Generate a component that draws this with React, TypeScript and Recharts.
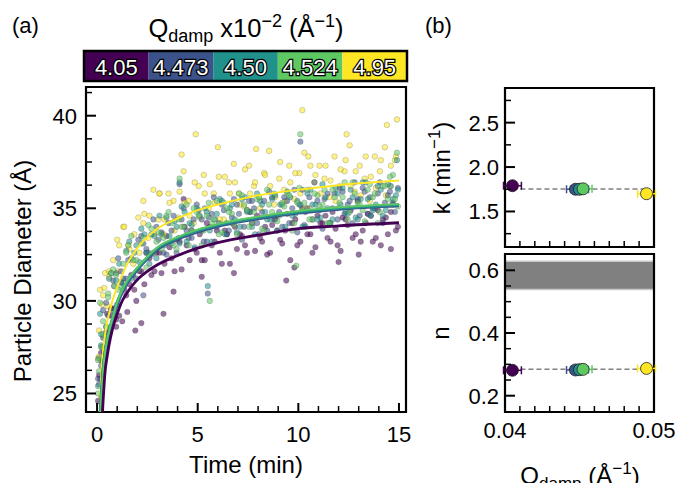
import * as React from "react";
import {
  ComposedChart,
  Scatter,
  Line,
  XAxis,
  YAxis,
  ReferenceArea,
  ReferenceLine,
  ErrorBar,
} from "recharts";

const FONT = "'Liberation Sans', Arial, Helvetica, sans-serif";
const W = 678;
const H = 483;

// colour bar / series
const Q_LABELS = ["4.05", "4.473", "4.50", "4.524", "4.95"];
const COLORS = ["#440154", "#3b528b", "#21918c", "#5ec962", "#fde725"];

// measurement times (min)
const TIME_A = [
  0.1, 0.35, 0.6, 0.85, 1.1, 1.35, 1.6, 1.85, 2.1, 2.35, 2.6, 2.85, 3.1, 3.35, 3.6, 3.85, 4.1, 4.35, 4.6, 4.85,
  5.1, 5.35, 5.6, 5.85, 6.1, 6.35, 6.6, 6.85, 7.1, 7.35, 7.6, 7.85, 8.1, 8.35, 8.6, 8.85, 9.1, 9.35, 9.6, 9.85,
  10.1, 10.35, 10.6, 10.85, 11.1, 11.35, 11.6, 11.85, 12.1, 12.35, 12.6, 12.85, 13.1, 13.35, 13.6, 13.85, 14.1, 14.35, 14.6, 14.85,
];
const TIME_B = [
  0.2, 0.45, 0.7, 0.95, 1.2, 1.45, 1.7, 1.95, 2.2, 2.45, 2.7, 2.95, 3.2, 3.45, 3.7, 3.95, 4.2, 4.45, 4.7, 4.95,
  5.2, 5.45, 5.7, 5.95, 6.2, 6.45, 6.7, 6.95, 7.2, 7.45, 7.7, 7.95, 8.2, 8.45, 8.7, 8.95, 9.2, 9.45, 9.7, 9.95,
  10.2, 10.45, 10.7, 10.95, 11.2, 11.45, 11.7, 11.95, 12.2, 12.45, 12.7, 12.95, 13.2, 13.45, 13.7, 13.95, 14.2, 14.45, 14.7, 14.95,
];
const TIME_C = [
  0.05, 0.3, 0.55, 0.8, 1.05, 1.3, 1.55, 1.8, 2.05, 2.3, 2.55, 2.8, 3.05, 3.3, 3.55, 3.8, 4.05, 4.3, 4.55, 4.8,
  5.05, 5.3, 5.55, 5.8, 6.05, 6.3, 6.55, 6.8, 7.05, 7.3, 7.55, 7.8, 8.05, 8.3, 8.55, 8.8, 9.05, 9.3, 9.55, 9.8,
  10.05, 10.3, 10.55, 10.8, 11.05, 11.3, 11.55, 11.8, 12.05, 12.3, 12.55, 12.8, 13.05, 13.3, 13.55, 13.8, 14.05, 14.3, 14.55, 14.8,
];

// particle diameters (Å), two runs per Q_damp
const D_405 = [
  26.0, 27.2, 28.3, 29.6, 29.2, 30.6, 30.9, 30.6, 31.6, 30.9,
  32.3, 31.6, 32.6, 32.0, 32.9, 31.6, 33.2, 34.0, 32.2, 32.8,
  33.6, 32.2, 34.0, 33.2, 32.6, 33.8, 32.0, 34.0, 33.6, 33.0,
  34.8, 32.7, 33.4, 34.0, 32.6, 34.4, 33.3, 33.8, 32.2, 34.4,
  33.2, 34.8, 33.6, 32.9, 34.2, 34.6, 33.2, 33.9, 32.7, 34.4,
  34.9, 33.6, 33.2, 34.2, 34.6, 33.4, 33.0, 34.5, 34.8, 33.8,
];
const D2_405 = [
  27.2, 27.5, 29.2, 28.6, 31.0, 30.3, 31.4, 30.0, 31.6, 32.6,
  31.4, 32.6, 31.5, 33.5, 32.3, 33.3, 31.7, 33.0, 33.8, 32.6,
  32.2, 34.2, 33.0, 33.8, 32.0, 33.6, 34.2, 32.8, 33.5, 32.6,
  34.2, 34.6, 33.2, 32.5, 34.1, 33.8, 33.1, 34.7, 34.2, 33.0,
  35.0, 33.6, 32.6, 34.6, 34.2, 33.4, 34.8, 33.0, 34.5, 34.1,
  33.4, 35.4, 33.8, 34.7, 33.2, 34.9, 34.4, 33.6, 35.2, 34.0,
];
const D_4473 = [
  26.5, 29.9, 29.5, 31.5, 31.6, 31.2, 32.3, 31.2, 33.5, 32.8,
  32.5, 34.0, 33.7, 32.5, 33.8, 32.6, 34.4, 33.8, 33.4, 35.2,
  34.4, 33.2, 34.7, 34.0, 35.2, 33.6, 34.5, 35.2, 33.3, 34.9,
  35.4, 34.2, 34.8, 33.8, 35.6, 34.6, 34.0, 35.4, 35.0, 33.7,
  36.0, 35.0, 34.4, 35.4, 33.9, 35.8, 35.0, 34.4, 35.9, 35.2,
  34.2, 35.5, 36.1, 34.7, 35.0, 35.8, 34.2, 35.7, 35.3, 36.1,
];
const D2_4473 = [
  25.8, 29.5, 29.2, 31.1, 32.3, 31.2, 32.2, 31.4, 33.3, 33.1,
  32.6, 34.4, 33.3, 32.6, 34.2, 34.6, 33.4, 35.0, 33.4, 34.4,
  34.9, 33.2, 34.5, 35.6, 34.2, 34.9, 33.8, 35.5, 34.7, 34.0,
  35.4, 35.0, 33.6, 35.4, 35.9, 34.4, 34.8, 35.6, 34.2, 36.0,
  35.2, 34.1, 35.6, 36.4, 34.9, 35.5, 34.2, 35.8, 36.1, 34.7,
  35.4, 36.4, 34.6, 35.9, 35.6, 35.0, 36.4, 35.3, 35.9, 34.8,
];
const D_450 = [
  26.9, 28.1, 31.2, 30.8, 32.0, 30.8, 33.2, 32.6, 32.1, 33.6,
  32.0, 33.5, 34.6, 33.0, 33.5, 34.3, 33.1, 34.8, 34.2, 32.9,
  34.6, 35.0, 33.8, 34.4, 35.5, 33.6, 35.0, 34.4, 34.0, 35.6,
  34.8, 33.6, 35.4, 34.8, 34.4, 35.7, 35.2, 34.0, 35.6, 34.7,
  35.2, 34.0, 36.0, 35.2, 34.5, 35.6, 34.2, 36.1, 35.2, 34.8,
  36.0, 34.5, 35.5, 36.4, 34.6, 35.2, 36.0, 34.9, 36.2, 35.7,
];
const D2_450 = [
  28.2, 28.6, 31.5, 31.1, 31.0, 32.7, 31.2, 33.0, 33.9, 32.6,
  33.6, 32.3, 33.6, 34.5, 33.1, 34.0, 35.1, 33.2, 34.1, 35.0,
  33.8, 34.8, 33.2, 34.7, 35.4, 34.2, 35.2, 33.7, 35.5, 34.8,
  34.0, 35.8, 35.2, 34.4, 35.5, 33.8, 35.2, 35.9, 34.6, 35.4,
  34.0, 35.8, 35.2, 34.4, 36.3, 35.0, 34.4, 35.8, 36.1, 34.7,
  35.6, 34.4, 36.4, 35.5, 34.9, 36.2, 34.6, 36.3, 35.5, 36.0,
];
const D_4524 = [
  27.5, 28.6, 31.5, 31.4, 30.7, 32.6, 33.5, 32.2, 33.1, 31.8,
  33.9, 33.2, 32.8, 34.6, 34.2, 32.8, 34.0, 35.2, 33.8, 34.8,
  33.0, 34.6, 34.2, 35.4, 33.7, 35.0, 34.7, 33.6, 35.7, 34.9,
  34.2, 35.5, 33.9, 36.0, 34.8, 34.3, 35.3, 35.8, 33.8, 35.3,
  34.9, 36.0, 34.4, 35.7, 35.2, 34.2, 36.0, 35.0, 35.6, 34.4,
  36.4, 35.3, 34.9, 36.0, 35.6, 34.2, 36.2, 35.5, 36.8, 35.1,
];
const D2_4524 = [
  26.8, 28.2, 30.4, 31.7, 30.6, 32.0, 33.0, 32.2, 31.7, 33.4,
  34.1, 32.6, 33.7, 33.4, 34.8, 33.0, 34.4, 34.0, 33.0, 35.0,
  34.6, 33.8, 35.3, 34.4, 33.6, 35.3, 34.8, 34.1, 35.8, 35.2,
  34.0, 34.8, 35.6, 33.8, 35.2, 35.8, 34.6, 35.1, 35.7, 34.2,
  36.1, 35.3, 34.4, 35.8, 35.1, 36.0, 34.2, 35.6, 35.3, 36.4,
  34.8, 35.8, 35.2, 34.3, 36.3, 35.8, 34.8, 36.2, 36.7, 35.5,
];
const D_495 = [
  26.9, 30.3, 29.7, 32.2, 31.6, 34.0, 33.0, 32.0, 34.5, 34.2,
  33.4, 36.0, 34.4, 33.6, 35.8, 35.4, 34.5, 37.0, 35.4, 34.2,
  36.2, 36.8, 35.0, 35.8, 36.7, 34.4, 36.4, 37.4, 35.8, 35.1,
  37.3, 36.2, 35.6, 36.9, 38.1, 35.2, 36.6, 36.0, 37.3, 35.5,
  36.9, 38.0, 35.0, 36.4, 37.3, 36.6, 35.6, 37.8, 36.2, 37.0,
  38.4, 35.9, 37.3, 36.6, 35.4, 37.8, 37.0, 38.3, 36.2, 37.6,
];
const D2_495 = [
  27.0, 30.7, 31.3, 30.8, 33.0, 34.0, 32.8, 33.6, 32.6, 34.7,
  34.6, 33.6, 35.8, 34.4, 35.3, 33.8, 35.9, 35.3, 34.6, 36.4,
  34.5, 35.8, 36.3, 35.3, 34.4, 36.7, 35.8, 36.4, 35.2, 37.1,
  35.8, 36.4, 35.0, 36.8, 36.2, 35.6, 37.5, 35.4, 36.4, 36.9,
  35.8, 35.0, 37.3, 36.8, 35.8, 37.3, 36.5, 35.4, 37.1, 37.6,
  36.2, 37.0, 35.7, 37.8, 36.7, 36.1, 37.6, 35.7, 37.3, 37.8,
];

// stray points [time, diameter]
const EXTRA_405 = [
  [0.05, 24.6], [0.15, 25.8], [0.2, 26.8], [0.25, 27.5], [0.45, 28.3], [0.5, 29.3], [0.7, 29.6], [0.95, 29.0],
  [1.25, 28.9], [1.5, 29.4], [1.9, 28.4], [2.2, 28.8], [3.3, 29.3], [3.8, 30.5], [5.2, 31.3], [6.8, 31.5],
  [9.4, 31.1], [9.8, 31.8], [12.0, 32.1], [13.0, 32.5], [14.6, 32.8], [4.3, 35.5],
];
const EXTRA_4473 = [[0.1, 25.5], [0.3, 28.0], [1.0, 29.8], [2.3, 30.3], [5.5, 30.4], [10.1, 38.6], [4.1, 36.3]];
const EXTRA_450 = [[0.05, 25.4], [0.2, 27.6], [0.15, 29.3], [4.1, 36.4], [5.5, 30.8], [14.9, 37.6]];
const EXTRA_4524 = [
  [0.05, 25.0], [0.1, 26.2], [0.3, 28.9], [0.55, 30.2], [0.15, 29.9], [4.1, 36.6], [10.1, 39.0], [5.6, 30.0],
  [9.9, 31.9], [14.9, 38.0],
];
const EXTRA_495 = [
  [0.1, 28.4], [0.15, 30.6], [0.2, 24.8], [0.25, 29.8], [0.4, 31.5], [0.6, 31.6], [1.0, 33.3], [2.3, 35.4], [3.1, 35.8],
  [4.2, 37.9], [4.9, 39.0], [6.0, 38.3], [7.9, 38.2], [10.2, 40.3], [10.5, 37.8], [12.4, 39.0], [14.4, 39.5], [14.9, 39.8],
];

// fitted curves
const FIT_TIME = [0.1, 0.15, 0.2, 0.25, 0.3, 0.4, 0.5, 0.6, 0.75, 1, 1.25, 1.5, 2, 2.5, 3, 4, 5, 6, 8, 10, 12, 15];
const FIT_405 = [19.5, 21.0, 22.6, 23.6, 24.6, 26.2, 27.0, 27.65, 28.4, 29.3, 30.0, 30.45, 31.15, 31.6, 31.95, 32.45, 32.85, 33.15, 33.55, 33.9, 34.05, 34.22];
const FIT_4473 = [21.0, 23.0, 24.5, 25.3, 26.1, 27.1, 27.8, 28.3, 28.9, 29.85, 30.5, 31.0, 31.7, 32.3, 32.8, 33.35, 33.75, 34.05, 34.45, 34.76, 34.97, 35.15];
const FIT_450 = [21.2, 23.1, 24.6, 25.35, 26.2, 27.2, 27.85, 28.35, 28.95, 29.9, 30.55, 31.05, 31.75, 32.35, 32.85, 33.4, 33.8, 34.1, 34.5, 34.8, 35.0, 35.19];
const FIT_4524 = [21.4, 23.2, 24.7, 25.4, 26.25, 27.25, 27.9, 28.4, 29.0, 29.95, 30.6, 31.1, 31.8, 32.4, 32.9, 33.45, 33.85, 34.15, 34.55, 34.85, 35.05, 35.23];
const FIT_495 = [23.0, 24.6, 25.8, 26.75, 27.3, 28.2, 28.85, 29.3, 29.95, 30.75, 31.4, 32.0, 32.85, 33.45, 33.9, 34.45, 34.9, 35.2, 35.7, 36.0, 36.25, 36.5];

// panel (b): fit parameters vs Q_damp
const Q_DAMP = [0.0405, 0.04473, 0.045, 0.04524, 0.0495];
const Q_ERR = [0.0006, 0.0006, 0.0006, 0.0006, 0.0006];
const K_VALUES = [1.79, 1.75, 1.75, 1.755, 1.7];
const N_VALUES = [0.281, 0.282, 0.283, 0.284, 0.287];
const K_MEAN = 1.752;
const N_MEAN = 0.284;
const N_BAND = [0.539, 0.629];

// ticks
const DIAM_TICKS = [25, 26.25, 27.5, 28.75, 30, 31.25, 32.5, 33.75, 35, 36.25, 37.5, 38.75, 40, 41.25];
const DIAM_MAJOR = [25, 30, 35, 40];
const TIME_TICKS = [0, 1, 2, 3, 4, 5, 6, 7, 8, 9, 10, 11, 12, 13, 14, 15];
const TIME_MAJOR = [0, 5, 10, 15];
const K_TICKS = [1.25, 1.5, 1.75, 2.0, 2.25, 2.5, 2.75];
const K_MAJOR = [1.5, 2.0, 2.5];
const N_TICKS = [0.2, 0.25, 0.3, 0.35, 0.4, 0.45, 0.5, 0.55, 0.6];
const N_MAJOR = [0.2, 0.4, 0.6];
const Q_TICKS = [0.04, 0.041, 0.042, 0.043, 0.044, 0.045, 0.046, 0.047, 0.048, 0.049, 0.05];
const Q_MAJOR = [0.04, 0.05];

const DIAM_DOMAIN = [24, 41.55];
const TIME_DOMAIN = [-0.55, 15.35];
const K_DOMAIN = [1.1, 2.89];
const N_DOMAIN = [0.148, 0.652];
const Q_DOMAIN = [0.04, 0.05];

const pairs = (times: number[], vals: number[]) => times.map((t, i) => ({ t, d: vals[i] }));
const extra = (pts: number[][]) => pts.map(([t, d]) => ({ t, d }));

const SERIES = [
  {
    color: COLORS[0],
    pts: [...pairs(TIME_A, D_405), ...pairs(TIME_B, D2_405), ...extra(EXTRA_405)],
    fit: pairs(FIT_TIME, FIT_405),
    lw: 2.8,
  },
  {
    color: COLORS[1],
    pts: [...pairs(TIME_B, D_4473), ...pairs(TIME_C, D2_4473), ...extra(EXTRA_4473)],
    fit: pairs(FIT_TIME, FIT_4473),
    lw: 3.6,
  },
  {
    color: COLORS[2],
    pts: [...pairs(TIME_A, D_450), ...pairs(TIME_B, D2_450), ...extra(EXTRA_450)],
    fit: pairs(FIT_TIME, FIT_450),
    lw: 3,
  },
  {
    color: COLORS[3],
    pts: [...pairs(TIME_B, D_4524), ...pairs(TIME_C, D2_4524), ...extra(EXTRA_4524)],
    fit: pairs(FIT_TIME, FIT_4524),
    lw: 2,
  },
  {
    color: COLORS[4],
    pts: [...pairs(TIME_C, D_495), ...pairs(TIME_A, D2_495), ...extra(EXTRA_495)],
    fit: pairs(FIT_TIME, FIT_495),
    lw: 2,
  },
];
const SCATTER_ORDER = [0, 4, 1, 2, 3];
const LINE_ORDER = [4, 1, 2, 3, 0];

const near = (list: number[], v: number) => list.some((m) => Math.abs(m - v) < 1e-9);

// inward ticks (matplotlib style), label only on majors
function makeTick(side: "left" | "bottom", majors: number[], gap: number, fmt: ((v: number) => string) | null, labelDy = 0) {
  return (p: any) => {
    const v = p.payload?.value as number;
    const major = near(majors, v);
    const len = major ? 10 : 6;
    const sw = major ? 2 : 1.5;
    if (side === "left") {
      const ax = p.x + gap;
      return (
        <g>
          <line x1={ax} y1={p.y} x2={ax + len} y2={p.y} stroke="#000" strokeWidth={sw} />
          {major && fmt && (
            <text x={p.x} y={p.y} dy="0.36em" textAnchor="end" fontSize={22} fontFamily={FONT} fill="#000">
              {fmt(v)}
            </text>
          )}
        </g>
      );
    }
    const ay = p.y - gap;
    return (
      <g>
        <line x1={p.x} y1={ay} x2={p.x} y2={ay - (major ? 9 : 6)} stroke="#000" strokeWidth={sw} />
        {major && fmt && (
          <text x={p.x} y={p.y + labelDy} textAnchor="middle" fontSize={22} fontFamily={FONT} fill="#000">
            {fmt(v)}
          </text>
        )}
      </g>
    );
  };
}

const smallDot = (color: string) => (p: any) =>
  (
    <circle cx={p.cx} cy={p.cy} r={2.8} fill={color} fillOpacity={0.55} stroke="#333" strokeOpacity={0.35} strokeWidth={0.6} />
  );

const bigDot = (color: string) => (p: any) =>
  <circle cx={p.cx} cy={p.cy} r={6} fill={color} stroke="#222" strokeWidth={0.8} />;

const abs: React.CSSProperties = { position: "absolute", left: 0, top: 0 };
const DIAM_MARGIN = { top: 87, right: W - 406, bottom: H - 412 - 30, left: 86 - 50 };

// scatter layer with axes; the fit curves sit in a second chart on top of it
function DiameterPanel() {
  return (
    <>
      <div style={abs}>
        <ComposedChart width={W} height={H} margin={DIAM_MARGIN}>
          <XAxis
            type="number"
            dataKey="t"
            domain={TIME_DOMAIN}
            ticks={TIME_TICKS}
            interval={0}
            height={30}
            axisLine={false}
            tickLine={false}
            tickSize={0}
            tickMargin={6}
            tick={makeTick("bottom", TIME_MAJOR, 6, (v) => String(v), 23.5)}
            allowDataOverflow
          />
          <YAxis
            type="number"
            dataKey="d"
            domain={DIAM_DOMAIN}
            ticks={DIAM_TICKS}
            interval={0}
            width={50}
            axisLine={false}
            tickLine={false}
            tickSize={0}
            tickMargin={9}
            tick={makeTick("left", DIAM_MAJOR, 9, (v) => String(v))}
            allowDataOverflow
          />
          {SCATTER_ORDER.map((i) => (
            <Scatter key={`s${i}`} data={SERIES[i].pts} fill={SERIES[i].color} shape={smallDot(SERIES[i].color)} isAnimationActive={false} />
          ))}
        </ComposedChart>
      </div>
      <div style={{ ...abs, pointerEvents: "none" }}>
        <ComposedChart width={W} height={H} margin={DIAM_MARGIN}>
          <XAxis type="number" dataKey="t" domain={TIME_DOMAIN} height={30} axisLine={false} tickLine={false} tick={false} allowDataOverflow />
          <YAxis type="number" dataKey="d" domain={DIAM_DOMAIN} width={50} axisLine={false} tickLine={false} tick={false} allowDataOverflow />
          {LINE_ORDER.map((i) => (
            <Line
              key={`l${i}`}
              data={SERIES[i].fit}
              dataKey="d"
              type="monotone"
              stroke={SERIES[i].color}
              strokeWidth={SERIES[i].lw}
              dot={false}
              activeDot={false}
              isAnimationActive={false}
            />
          ))}
          <ReferenceArea x1={TIME_DOMAIN[0]} x2={TIME_DOMAIN[1]} y1={DIAM_DOMAIN[0]} y2={DIAM_DOMAIN[1]} fill="none" stroke="#000" strokeWidth={2.2} />
        </ComposedChart>
      </div>
    </>
  );
}

function ParamPanel({
  values,
  mean,
  domain,
  ticks,
  majors,
  top,
  bottom,
  showQLabels,
  band,
}: {
  values: number[];
  mean: number;
  domain: number[];
  ticks: number[];
  majors: number[];
  top: number;
  bottom: number;
  showQLabels: boolean;
  band?: number[];
}) {
  const rows = Q_DAMP.map((q, i) => ({ t: q, d: values[i], qErr: Q_ERR[i] }));
  return (
    <div style={abs}>
      <ComposedChart width={W} height={H} margin={{ top, right: W - 654, bottom: H - bottom - 30, left: 505 - 60 }}>
        <XAxis
          type="number"
          dataKey="t"
          domain={Q_DOMAIN}
          ticks={Q_TICKS}
          interval={0}
          height={30}
          axisLine={false}
          tickLine={false}
          tickSize={0}
          tickMargin={6}
          tick={makeTick("bottom", [], 6, null)}
          allowDataOverflow
        />
        <YAxis
          type="number"
          dataKey="d"
          domain={domain}
          ticks={ticks}
          interval={0}
          width={60}
          axisLine={false}
          tickLine={false}
          tickSize={0}
          tickMargin={6}
          tick={makeTick("left", majors, 6, (v) => v.toFixed(1))}
          allowDataOverflow
        />
        {band && (
          <ReferenceArea x1={Q_DOMAIN[0]} x2={Q_DOMAIN[1]} y1={band[0]} y2={band[1]} fill="#808080" fillOpacity={1} stroke="#c8c8c8" strokeWidth={1.5} />
        )}
        <ReferenceLine
          segment={[
            { x: Q_DOMAIN[0] + 0.0005, y: mean },
            { x: Q_DOMAIN[1] - 0.0005, y: mean },
          ]}
          stroke="#808080"
          strokeWidth={1.5}
          strokeDasharray="5 3"
        />
        {rows.map((r, i) => (
          <Scatter key={i} data={[r]} fill={COLORS[i]} shape={bigDot(COLORS[i])} isAnimationActive={false}>
            <ErrorBar dataKey="qErr" direction="x" width={4} stroke={COLORS[i]} strokeWidth={1.5} />
          </Scatter>
        ))}
        <ReferenceArea x1={Q_DOMAIN[0]} x2={Q_DOMAIN[1]} y1={domain[0]} y2={domain[1]} fill="none" stroke="#000" strokeWidth={2.2} />
      </ComposedChart>
      {showQLabels && (
        <svg width={W} height={H} style={{ ...abs, pointerEvents: "none" }}>
          {Q_MAJOR.map((q) => (
            <text key={q} x={505 + ((q - Q_DOMAIN[0]) / (Q_DOMAIN[1] - Q_DOMAIN[0])) * 149} y={438} textAnchor="middle" fontSize={22} fontFamily={FONT}>
              {q.toFixed(2)}
            </text>
          ))}
        </svg>
      )}
    </div>
  );
}

function Overlay() {
  const cbLeft = 84;
  const cbRight = 407;
  const seg = (cbRight - cbLeft) / Q_LABELS.length;
  return (
    <svg width={W} height={H} style={{ ...abs, pointerEvents: "none" }} fontFamily={FONT}>
      <text x={12} y={33} fontSize={22}>(a)</text>
      <text x={425} y={33} fontSize={22}>(b)</text>
      <text x={246} y={37} fontSize={25.5} textAnchor="middle">
        Q<tspan fontSize={18} dy={5}>damp</tspan>
        <tspan dy={-5}> x10</tspan>
        <tspan fontSize={18} dy={-10}>−2</tspan>
        <tspan dy={10}> (Å</tspan>
        <tspan fontSize={18} dy={-10}>−1</tspan>
        <tspan dy={10}>)</tspan>
      </text>
      {Q_LABELS.map((lab, i) => (
        <g key={lab}>
          <rect x={cbLeft + i * seg} y={51} width={seg} height={30} fill={COLORS[i]} />
          <text
            x={cbLeft + (i + 0.5) * seg}
            y={74.5}
            textAnchor="middle"
            fontSize={22}
            fill="#fff"
            stroke="#000"
            strokeWidth={2.5}
            paintOrder="stroke"
          >
            {lab}
          </text>
        </g>
      ))}
      <rect x={cbLeft} y={51} width={cbRight - cbLeft} height={30} fill="none" stroke="#000" strokeWidth={2.5} />
      <text transform="translate(31,271) rotate(-90)" fontSize={24} textAnchor="middle">
        Particle Diameter (Å)
      </text>
      <text x={246} y={473} fontSize={24} textAnchor="middle">
        Time (min)
      </text>
      <text transform="translate(450,168) rotate(-90)" fontSize={24} textAnchor="middle">
        k (min<tspan fontSize={17} dy={-10}>−1</tspan>
        <tspan dy={10}>)</tspan>
      </text>
      <text transform="translate(449,333) rotate(-90)" fontSize={24} textAnchor="middle">
        n
      </text>
      <text x={580} y={484} fontSize={24} textAnchor="middle">
        Q<tspan fontSize={17} dy={5}>damp</tspan>
        <tspan dy={-5}> (Å</tspan>
        <tspan fontSize={17} dy={-10}>−1</tspan>
        <tspan dy={10}>)</tspan>
      </text>
    </svg>
  );
}

export default function App() {
  return (
    <div style={{ position: "absolute", left: 0, top: 0, width: W, height: H, background: "#fff", overflow: "hidden", fontFamily: FONT }}>
      <DiameterPanel />
      <ParamPanel values={K_VALUES} mean={K_MEAN} domain={K_DOMAIN} ticks={K_TICKS} majors={K_MAJOR} top={88} bottom={247} showQLabels={false} />
      <ParamPanel
        values={N_VALUES}
        mean={N_MEAN}
        domain={N_DOMAIN}
        ticks={N_TICKS}
        majors={N_MAJOR}
        top={254}
        bottom={412}
        showQLabels
        band={N_BAND}
      />
      <Overlay />
    </div>
  );
}
